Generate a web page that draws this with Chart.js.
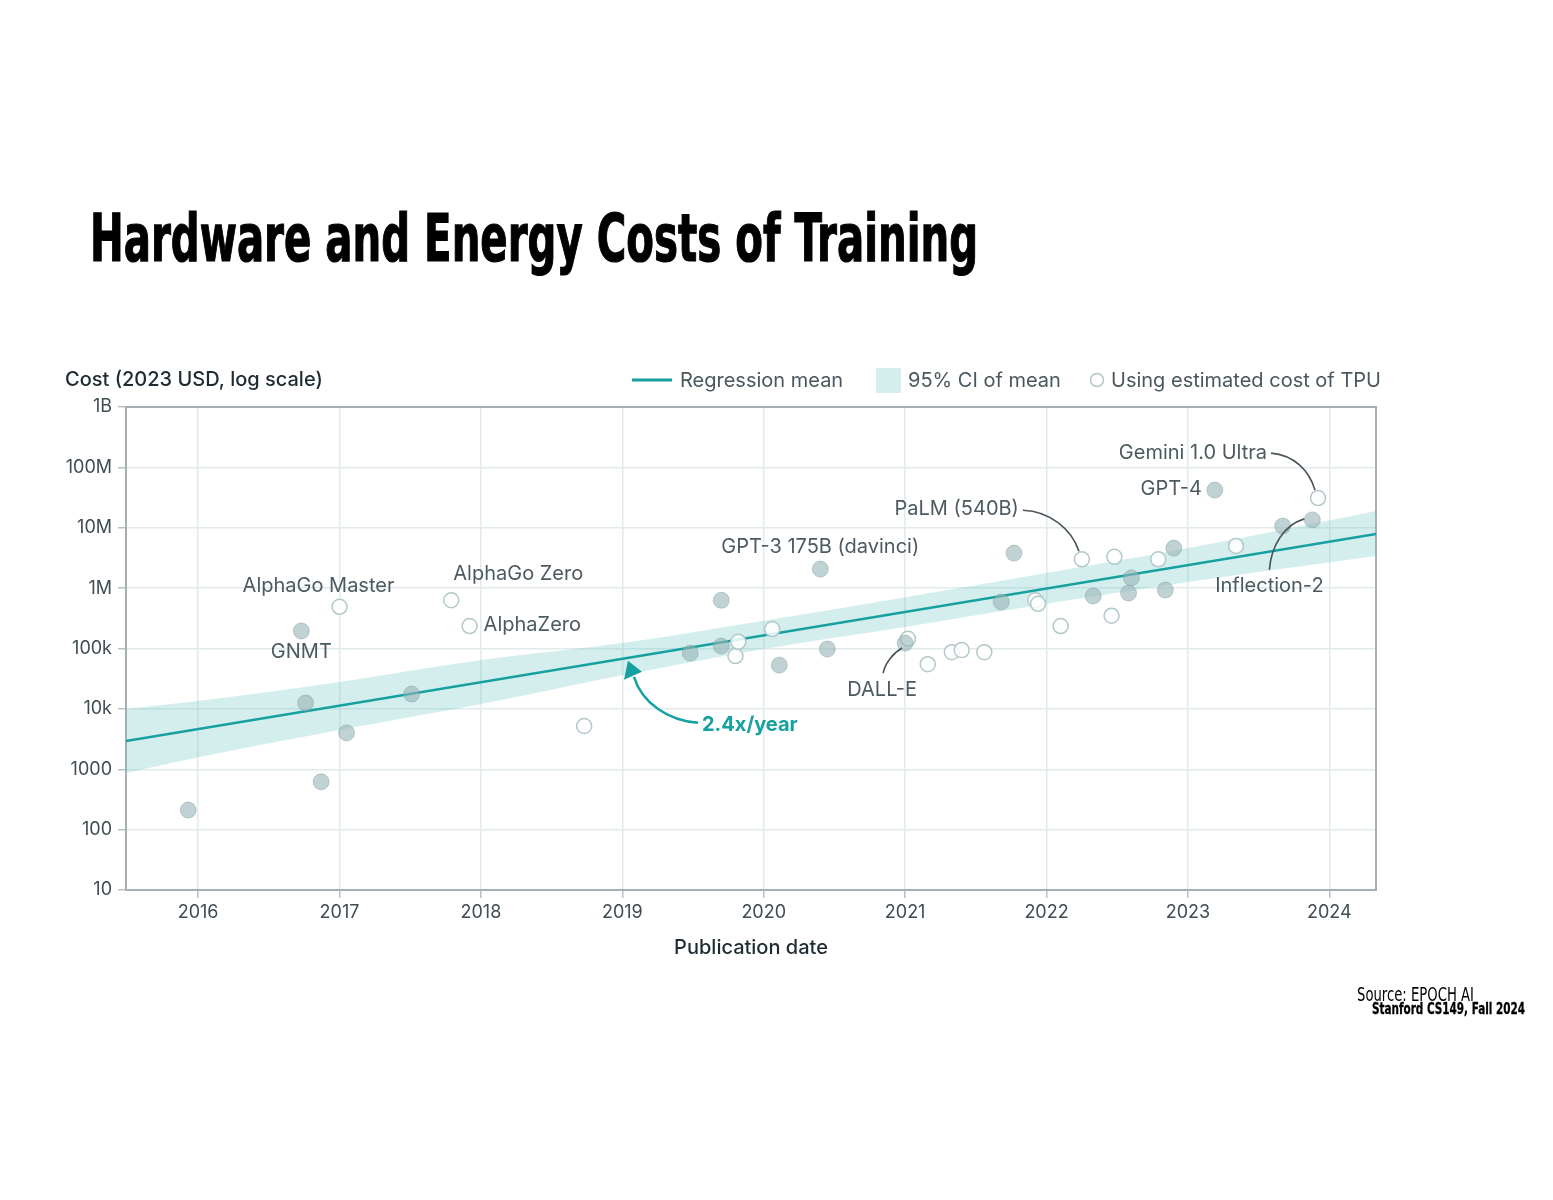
<!DOCTYPE html>
<html><head><meta charset="utf-8">
<script src="https://cdn.jsdelivr.net/npm/chart.js@4.4.1/dist/chart.umd.min.js"></script>
<style>
html,body{margin:0;padding:0;background:#fff;width:1553px;height:1200px;overflow:hidden;}
#wrap{position:relative;width:1553px;height:1200px;}
#c{position:absolute;left:0;top:0;}
.t{position:absolute;white-space:nowrap;transform-origin:0 0;color:#000;font-family:"Liberation Sans Narrow","DejaVu Sans Condensed",sans-serif;}
#title{left:90px;top:206px;font-weight:bold;font-size:66px;line-height:66px;-webkit-text-stroke:1.2px #000;}
#src{left:1357px;top:985px;font-size:19px;line-height:19px;}
#course{left:1372px;top:1002px;font-weight:bold;font-size:15px;line-height:15px;-webkit-text-stroke:0.3px #000;}
</style>
</head><body>
<div id="wrap">
<canvas id="c" width="1553" height="1200"></canvas>
<div class="t" id="title" data-w="888">Hardware and Energy Costs of Training</div>
<div class="t" id="src" data-w="117">Source: EPOCH AI</div>
<div class="t" id="course" data-w="153">Stanford CS149, Fall 2024</div>
</div>
<script>
// ---------- DATA ----------
const yearTicks = [2016, 2017, 2018, 2019, 2020, 2021, 2022, 2023, 2024];
const costTicks = [10, 100, 1000, 1e4, 1e5, 1e6, 1e7, 1e8, 1e9];
const costTickLabels = ['10', '100', '1000', '10k', '100k', '1M', '10M', '100M', '1B'];
const dateRange = [2015.49, 2024.33];

// Models trained on GPUs (filled)
const gpuDates = [2015.93, 2016.73, 2016.76, 2016.87, 2017.05, 2017.51, 2019.48, 2019.70, 2019.70, 2020.11, 2020.40, 2020.45, 2021.00, 2021.68, 2021.77, 2022.33, 2022.58, 2022.60, 2022.84, 2022.90, 2023.19, 2023.67, 2023.88];
const gpuCosts = [211, 195000, 12500, 620, 4000, 17600, 84000, 630000, 110000, 53000, 2070000, 98000, 123000, 590000, 3800000, 740000, 830000, 1480000, 930000, 4600000, 42000000, 10700000, 13500000];

// Models using estimated cost of TPU (open)
const tpuDates = [2017.00, 2017.79, 2017.92, 2018.73, 2019.80, 2019.82, 2020.06, 2021.02, 2021.16, 2021.33, 2021.40, 2021.56, 2021.92, 2021.94, 2022.10, 2022.25, 2022.46, 2022.48, 2022.79, 2023.34, 2023.92];
const tpuCosts = [490000, 630000, 235000, 5200, 75000, 129000, 210000, 145000, 55000, 87000, 94000, 87000, 630000, 550000, 235000, 3000000, 350000, 3300000, 3000000, 5000000, 31000000];

// Regression mean (end points) and 95% CI of mean
const regressionDates = [2015.49, 2024.33];
const regressionCosts = [2940, 7900000];
const ciDates = [2015.49, 2016, 2017, 2018, 2019, 2020, 2021, 2022, 2023, 2024.33];
const ciUpper = [10000, 13500, 27900, 64600, 123000, 288000, 707000, 1780000, 4600000, 19000000];
const ciLower = [870, 1580, 4460, 12000, 36000, 98000, 228000, 550000, 1260000, 3400000];

const annotationTexts = ['AlphaGo Master', 'GNMT', 'AlphaGo Zero', 'AlphaZero', 'GPT-3 175B (davinci)', 'PaLM (540B)', 'DALL-E', 'GPT-4', 'Gemini 1.0 Ultra', 'Inflection-2'];
const rateLabel = '2.4x/year';
const legendLabels = ['Regression mean', '95% CI of mean', 'Using estimated cost of TPU'];
const yAxisTitle = 'Cost (2023 USD, log scale)';
const xAxisTitle = 'Publication date';

// ---------- STYLE / PLACEMENT (pixel offsets from the annotated point) ----------
const annotationStyle = [
  {set: 'tpu', i: 0, dx: -21, dy: -21, align: 'center'},
  {set: 'gpu', i: 1, dx: 0, dy: 21, align: 'center'},
  {set: 'tpu', i: 1, dx: 67, dy: -26, align: 'center'},
  {set: 'tpu', i: 2, dx: 14, dy: -1, align: 'left'},
  {set: 'gpu', i: 10, dx: 0, dy: -22, align: 'center'},
  {set: 'tpu', i: 15, dx: -63, dy: -50, align: 'right', leader: [[-59, -49], [-32, -48], [-10, -30], [-3, -8]]},
  {set: 'gpu', i: 12, dx: -23, dy: 47, align: 'center', leader: [[-22, 30], [-20, 20], [-12, 10], [-3, 5]]},
  {set: 'gpu', i: 20, dx: -13, dy: -1, align: 'right'},
  {set: 'tpu', i: 20, dx: -51, dy: -45, align: 'right', leader: [[-47, -45], [-24, -43], [-9, -28], [-3, -8]]},
  {set: 'gpu', i: 22, dx: -43, dy: 66, align: 'center', leader: [[-43, 50], [-41, 25], [-28, 5], [-8, -1]]}
];
const TEXT_FONT = '"Inter", "Noto Sans", sans-serif';
const TEAL = '#17a0a0';

// ---------- helpers ----------
const pts = (xs, ys) => xs.map((x, k) => ({x: x, y: ys[k]}));

const overlay = {
  id: 'overlay',
  beforeDatasetsDraw(chart) {
    const {ctx, chartArea: a} = chart;
    ctx.save();
    ctx.strokeStyle = '#a6b0b4';
    ctx.lineWidth = 2;
    ctx.strokeRect(a.left, a.top, a.right - a.left, a.bottom - a.top);
    ctx.restore();
  },
  afterDraw(chart) {
    const {ctx} = chart;
    const xs = chart.scales.x, ys = chart.scales.y;
    ctx.save();
    // y axis title
    ctx.font = '500 20px ' + TEXT_FONT;
    ctx.fillStyle = '#1e2b31';
    ctx.textBaseline = 'middle';
    ctx.textAlign = 'left';
    ctx.fillText(yAxisTitle, 65, 380);
    // legend
    ctx.font = '20px ' + TEXT_FONT;
    ctx.fillStyle = '#4a585d';
    ctx.strokeStyle = TEAL; ctx.lineWidth = 3;
    ctx.beginPath(); ctx.moveTo(632, 380); ctx.lineTo(672, 380); ctx.stroke();
    ctx.fillText(legendLabels[0], 680, 381);
    ctx.fillStyle = '#d4eeee';
    ctx.fillRect(876, 368, 25, 25);
    ctx.fillStyle = '#4a585d';
    ctx.fillText(legendLabels[1], 908, 381);
    ctx.beginPath(); ctx.arc(1097, 380, 6.5, 0, Math.PI * 2);
    ctx.fillStyle = '#fff'; ctx.fill();
    ctx.strokeStyle = '#b3c8ca'; ctx.lineWidth = 1.5; ctx.stroke();
    ctx.fillStyle = '#4a585d';
    ctx.fillText(legendLabels[2], 1111, 381);

    // annotations
    ctx.font = '20px ' + TEXT_FONT;
    annotationStyle.forEach((s, k) => {
      const dates = s.set === 'tpu' ? tpuDates : gpuDates;
      const costs = s.set === 'tpu' ? tpuCosts : gpuCosts;
      const px = xs.getPixelForValue(dates[s.i]);
      const py = ys.getPixelForValue(costs[s.i]);
      ctx.fillStyle = '#4c5a60';
      ctx.textAlign = s.align;
      ctx.textBaseline = 'middle';
      ctx.fillText(annotationTexts[k], px + s.dx, py + s.dy);
      if (s.leader) {
        const L = s.leader;
        ctx.strokeStyle = '#4b5559'; ctx.lineWidth = 1.6;
        ctx.beginPath();
        ctx.moveTo(px + L[0][0], py + L[0][1]);
        ctx.bezierCurveTo(px + L[1][0], py + L[1][1], px + L[2][0], py + L[2][1], px + L[3][0], py + L[3][1]);
        ctx.stroke();
      }
    });

    // growth-rate arrow anchored on the regression line
    const x0 = xs.getPixelForValue(regressionDates[0]), y0 = ys.getPixelForValue(regressionCosts[0]);
    const x1 = xs.getPixelForValue(regressionDates[1]), y1 = ys.getPixelForValue(regressionCosts[1]);
    const tx = xs.getPixelForValue(2019.04);
    const ty = y0 + (y1 - y0) * (tx - x0) / (x1 - x0) + 3;
    ctx.strokeStyle = TEAL; ctx.fillStyle = TEAL; ctx.lineWidth = 2.5;
    ctx.beginPath();
    ctx.moveTo(tx + 70, ty + 62);
    ctx.bezierCurveTo(tx + 40, ty + 60, tx + 14, ty + 42, tx + 6, ty + 16);
    ctx.stroke();
    ctx.beginPath();
    ctx.moveTo(tx, ty);
    ctx.lineTo(tx - 4, ty + 19);
    ctx.lineTo(tx + 14, ty + 11);
    ctx.closePath();
    ctx.fill();
    ctx.font = 'bold 20px ' + TEXT_FONT;
    ctx.textAlign = 'left';
    ctx.fillText(rateLabel, tx + 74, ty + 64);
    ctx.restore();
  }
};

new Chart(document.getElementById('c'), {
  type: 'scatter',
  data: {
    datasets: [
      {type: 'scatter', label: 'GPU', data: pts(gpuDates, gpuCosts), order: 0,
        backgroundColor: 'rgba(150,180,182,0.6)', borderColor: 'rgba(120,150,152,0.4)', borderWidth: 1, pointRadius: 8},
      {type: 'scatter', label: legendLabels[2], data: pts(tpuDates, tpuCosts), order: 1,
        backgroundColor: 'rgba(255,255,255,0.85)', borderColor: '#b3c8ca', borderWidth: 1.5, pointRadius: 7.5},
      {type: 'line', label: legendLabels[0], data: pts(regressionDates, regressionCosts), order: 2,
        borderColor: TEAL, borderWidth: 2.5, pointRadius: 0, fill: false},
      {type: 'line', label: legendLabels[1], data: pts(ciDates, ciUpper), order: 3,
        borderWidth: 0, pointRadius: 0, fill: '+1', backgroundColor: 'rgba(100,195,195,0.28)', cubicInterpolationMode: 'monotone'},
      {type: 'line', label: 'lower', data: pts(ciDates, ciLower), order: 4,
        borderWidth: 0, pointRadius: 0, fill: false, cubicInterpolationMode: 'monotone'}
    ]
  },
  options: {
    responsive: false,
    animation: false,
    events: [],
    layout: {padding: {left: 0, top: 407, right: 177, bottom: 230}},
    plugins: {legend: {display: false}, tooltip: {enabled: false}, title: {display: false}},
    scales: {
      x: {
        type: 'linear', min: dateRange[0], max: dateRange[1],
        afterBuildTicks: s => { s.ticks = yearTicks.map(v => ({value: v})); },
        afterFit: s => { s.height = 80; },
        ticks: {callback: (v, i) => String(yearTicks[i]), color: '#3f4c52', font: {family: TEXT_FONT, size: 18}, padding: 4, maxRotation: 0},
        grid: {color: '#e1eaec', lineWidth: 1.5, tickLength: 8, tickColor: '#b8c2c5'},
        border: {display: false},
        title: {display: true, text: xAxisTitle, color: '#1e2b31', font: {family: TEXT_FONT, size: 20, weight: '500'}, padding: {top: 0, bottom: 10}}
      },
      y: {
        type: 'logarithmic', min: 10, max: 1e9,
        afterBuildTicks: s => { s.ticks = costTicks.map(v => ({value: v})); },
        afterFit: s => { s.width = 126; },
        ticks: {callback: (v, i) => costTickLabels[i], color: '#3f4c52', font: {family: TEXT_FONT, size: 18}, padding: 6},
        grid: {color: '#e1eaec', lineWidth: 1.5, tickLength: 8, tickColor: '#b8c2c5'},
        border: {display: false}
      }
    }
  },
  plugins: [overlay]
});

// fit HTML texts to their reference widths
document.querySelectorAll('.t').forEach(el => {
  const w = el.getBoundingClientRect().width;
  el.style.transform = 'scaleX(' + (parseFloat(el.dataset.w) / w) + ')';
});
</script>
</body></html>
